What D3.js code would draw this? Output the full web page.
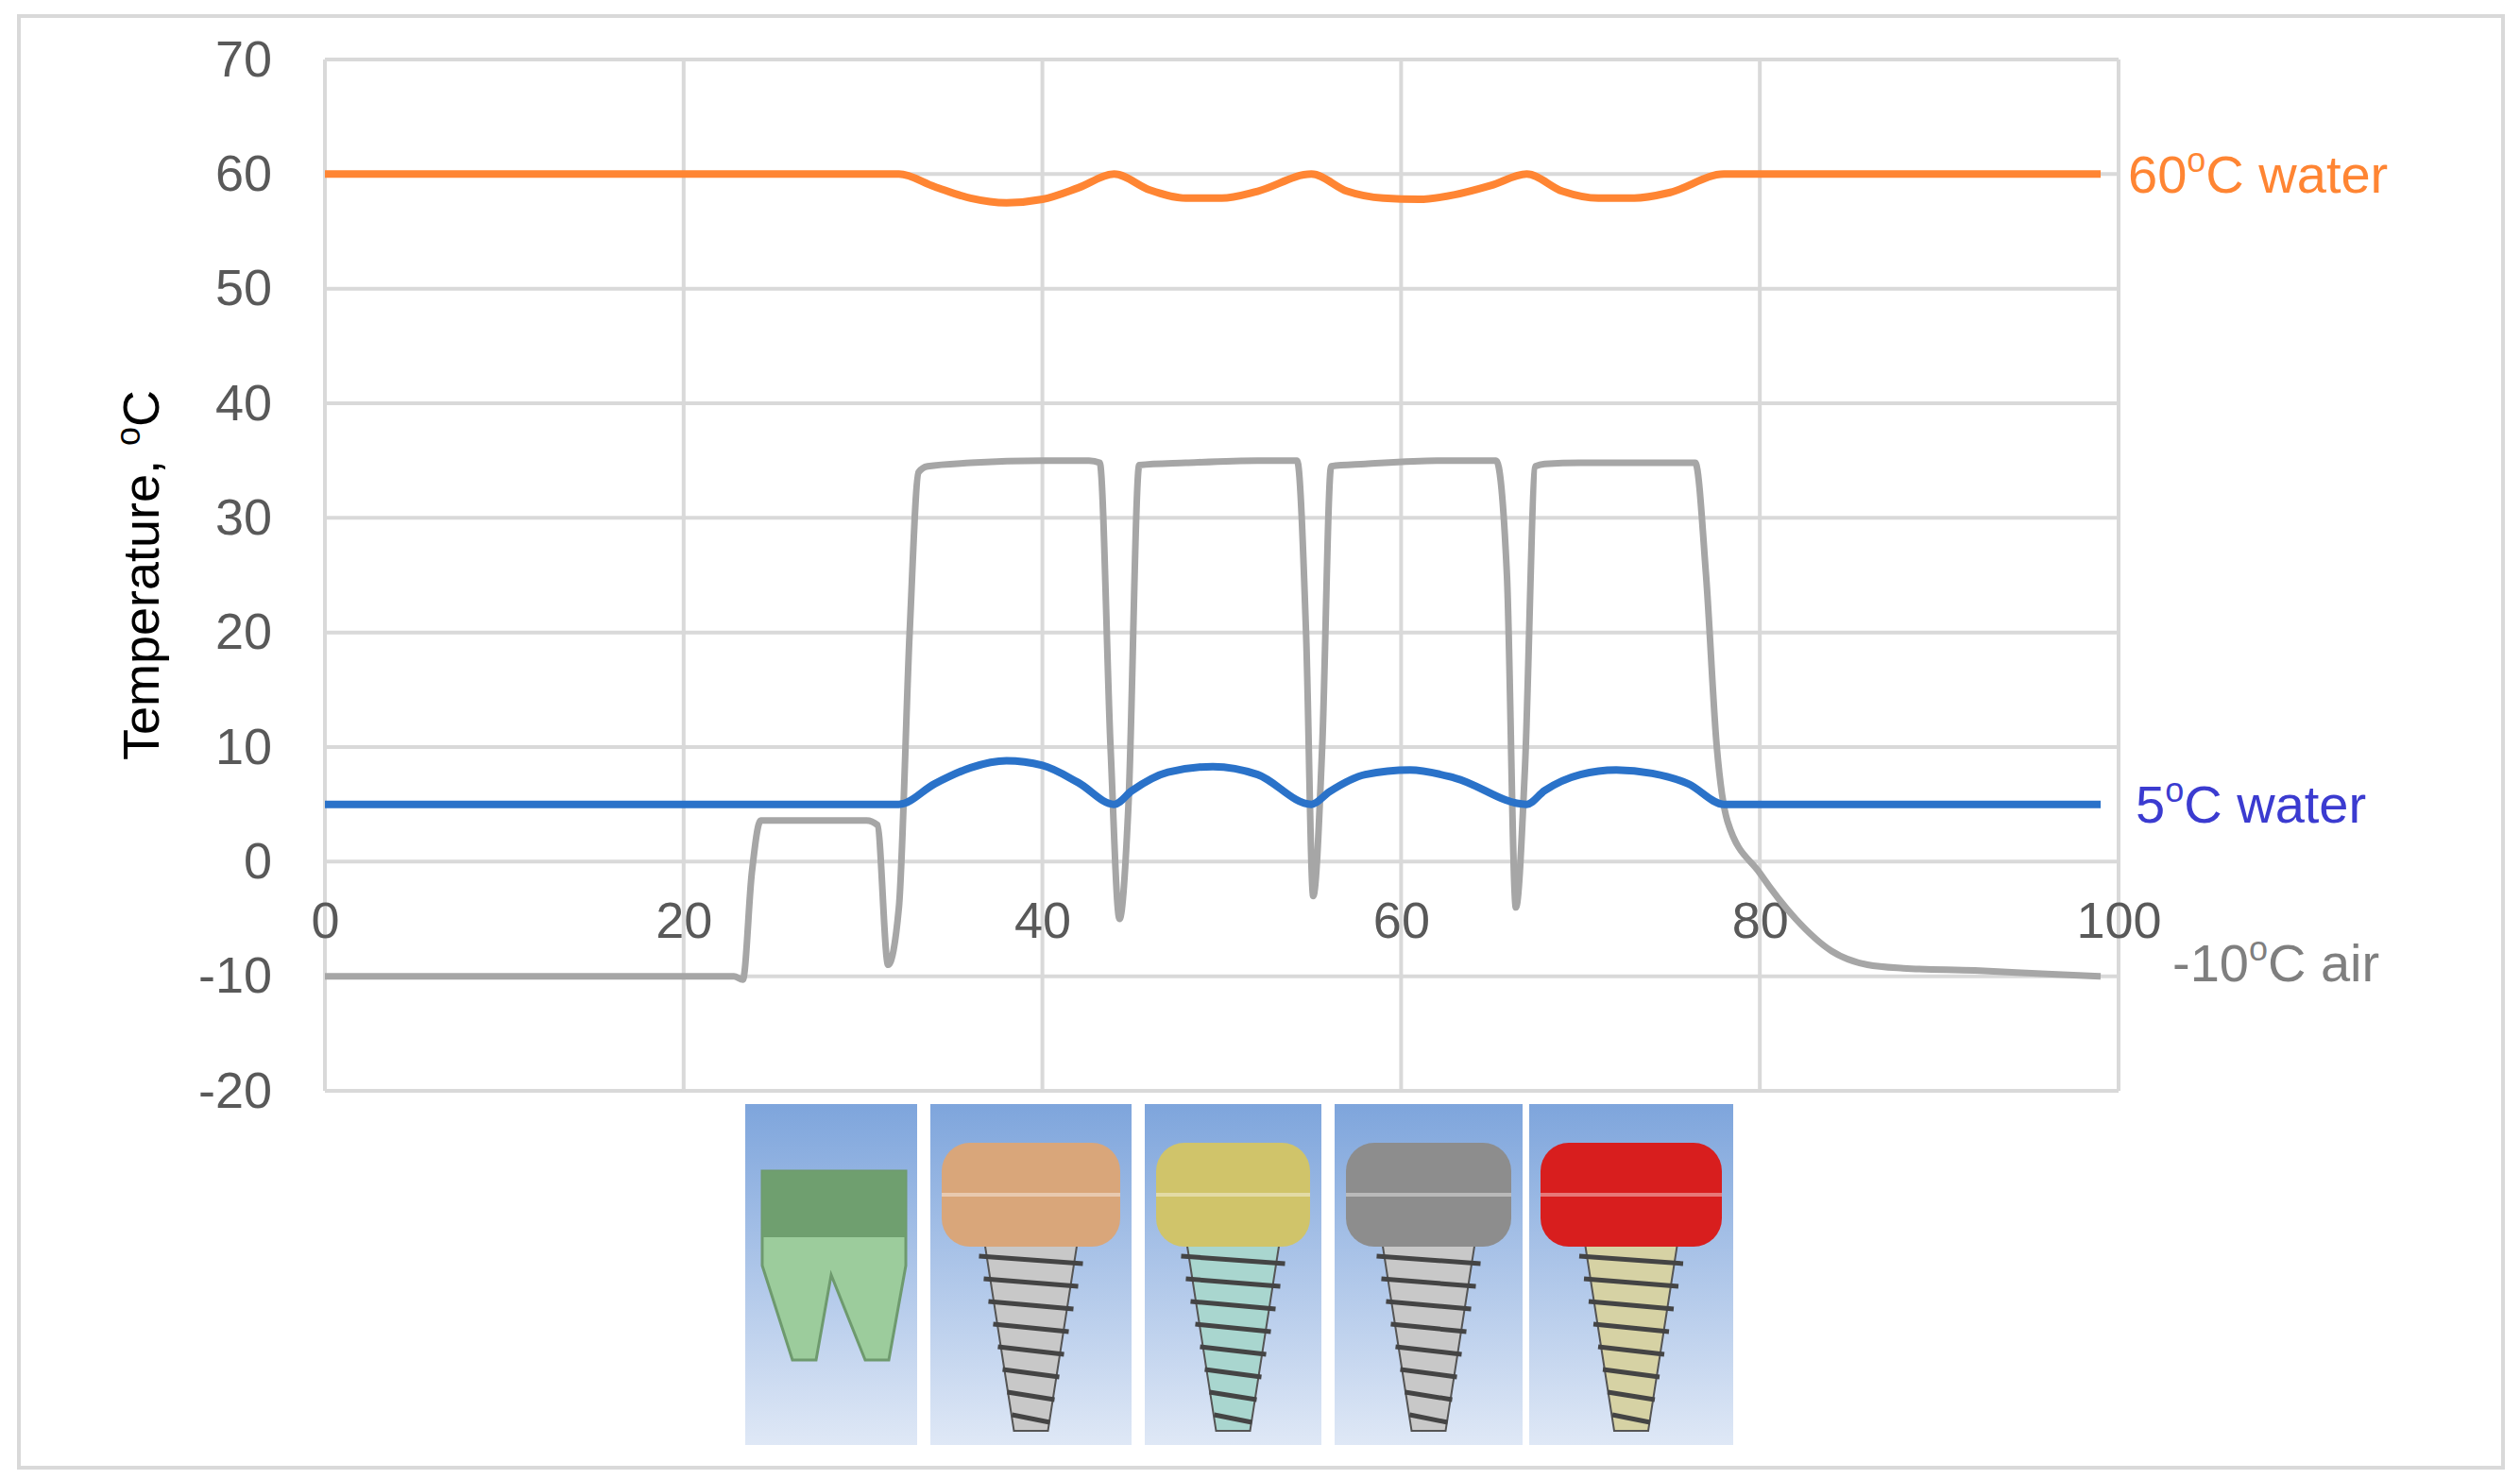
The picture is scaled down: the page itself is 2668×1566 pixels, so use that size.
<!DOCTYPE html>
<html>
<head>
<meta charset="utf-8">
<script src="https://d3js.org/d3.v7.min.js"></script>
<style>
  body { margin: 0; background: #fff; }
</style>
</head>
<body>
<div id="chart"></div>
<script>
"use strict";
var W = 2668, H = 1566;
var margin = {left: 344, right: 2668 - 2243, top: 63, bottom: 1566 - 1155};

// ---- data ----
var airX = [0, 10, 20, 22.8, 23.3, 23.8, 24.3, 27, 30.2, 30.8, 31.4, 32.0, 32.6, 33.1, 33.6, 36, 40, 42.6, 43.2, 43.8, 44.3, 44.8, 45.4, 48, 52, 54.2, 54.7, 55.1, 55.6, 56.1, 58, 62, 65.3, 65.9, 66.4, 66.9, 67.5, 68.0, 70, 74, 76.4, 77.0, 77.6, 78.2, 80, 82, 84, 86, 88, 92, 96, 99];
var airY = [-10, -10, -10, -10, -10.3, -1, 3.6, 3.6, 3.6, 3.2, -9, -4, 20, 34, 34.5, 34.8, 35, 35, 34.8, 10, -5, 5, 34.6, 34.8, 35, 35, 20, -3, 10, 34.5, 34.7, 35, 35, 25, -4, 8, 34.5, 34.7, 34.8, 34.8, 34.8, 25, 10, 3.5, -1, -5, -7.8, -9, -9.3, -9.5, -9.8, -10];
var hotX = [0, 20, 32, 34, 36, 38, 40, 42, 44, 46, 48, 50, 52, 55, 57, 59, 61, 63, 65, 67, 69, 71, 73, 75, 78, 99];
var hotY = [60, 60, 60, 58.9, 57.9, 57.5, 57.8, 58.8, 60, 58.6, 57.9, 57.9, 58.5, 60, 58.5, 57.9, 57.8, 58.2, 59.0, 60, 58.5, 57.9, 57.9, 58.4, 60, 60];
var coldX = [0, 20, 32, 34, 36, 38, 40, 42, 44, 45, 47, 49.5, 52, 55, 56, 58, 60.5, 63, 67, 68, 70, 72, 74, 76, 78, 99];
var coldY = [5, 5, 5, 6.8, 8.2, 8.8, 8.4, 6.9, 5, 6.2, 7.8, 8.3, 7.6, 5, 6.1, 7.6, 8.0, 7.3, 5, 6.2, 7.6, 8.0, 7.7, 6.8, 5, 5];
var xTicks = [0, 20, 40, 60, 80, 100];
var yTicks = [-20, -10, 0, 10, 20, 30, 40, 50, 60, 70];
var labels = ["60", "5", "-10"];

var svg = d3.select("#chart").append("svg").attr("width", W).attr("height", H);
svg.append("rect").attr("x", 20).attr("y", 17).attr("width", 2630).attr("height", 1537)
  .attr("fill", "#fff").attr("stroke", "#d9d9d9").attr("stroke-width", 4);

var x = d3.scaleLinear().domain([0, 100]).range([margin.left, W - margin.right]);
var y = d3.scaleLinear().domain([-20, 70]).range([H - margin.bottom, margin.top]);
var fmt = d => String(d);

// grid
svg.append("g").selectAll("line").data(yTicks).join("line")
  .attr("x1", x(0)).attr("x2", x(100)).attr("y1", d => y(d)).attr("y2", d => y(d))
  .attr("stroke", "#d9d9d9").attr("stroke-width", 4);
svg.append("g").selectAll("line").data(xTicks).join("line")
  .attr("x1", d => x(d)).attr("x2", d => x(d)).attr("y1", y(70)).attr("y2", y(-20))
  .attr("stroke", "#d9d9d9").attr("stroke-width", 4);

// y axis labels
var ya = svg.append("g")
  .attr("transform", "translate(" + (x(0) - 56) + ",0)")
  .call(d3.axisLeft(y).tickValues(yTicks).tickFormat(fmt).tickSize(0).tickPadding(0));
ya.select(".domain").remove();
ya.selectAll("text").attr("font-size", 54).attr("font-family", "Liberation Sans, sans-serif").attr("fill", "#595959");

// x axis labels, drawn at the zero line
var xa = svg.append("g")
  .attr("transform", "translate(0," + (y(0) + 42) + ")")
  .call(d3.axisBottom(x).tickValues(xTicks).tickFormat(fmt).tickSize(0).tickPadding(0));
xa.select(".domain").remove();
xa.selectAll("text").attr("font-size", 54).attr("font-family", "Liberation Sans, sans-serif").attr("fill", "#595959");

var line = d3.line().x(d => x(d[0])).y(d => y(d[1])).curve(d3.curveMonotoneX);
var zipped = (a, b) => a.map((v, i) => [v, b[i]]);

svg.append("path").datum(zipped(airX, airY)).attr("d", line)
  .attr("fill", "none").attr("stroke", "#a6a6a6").attr("stroke-width", 7).attr("stroke-linejoin", "round");
svg.append("path").datum(zipped(coldX, coldY)).attr("d", line)
  .attr("fill", "none").attr("stroke", "#2a72c9").attr("stroke-width", 8);
svg.append("path").datum(zipped(hotX, hotY)).attr("d", line)
  .attr("fill", "none").attr("stroke", "#ff8533").attr("stroke-width", 8);

// axis title
svg.append("text")
  .attr("transform", "translate(168," + y(25) + ") rotate(-90)")
  .attr("text-anchor", "middle").attr("font-family", "Liberation Sans, Arial, sans-serif")
  .attr("font-size", 54).attr("fill", "#000")
  .html('Temperature, <tspan dy="-20" font-size="36">o</tspan><tspan dy="20">C</tspan>');

// series labels
function seriesLabel(txt, unit, xx, yy, color) {
  svg.append("text").attr("x", xx).attr("y", yy).attr("dy", "0.35em")
    .attr("font-family", "Liberation Sans, sans-serif").attr("font-size", 56).attr("fill", color)
    .html(txt + '<tspan dy="-22" font-size="36">o</tspan><tspan dy="22">' + unit + '</tspan>');
}
seriesLabel(labels[0], "C water", 2253, y(60), "#ff8533");
seriesLabel(labels[1], "C water", 2261, y(5), "#3b3bd0");
seriesLabel(labels[2], "C air", 2300, y(-10) - 14, "#7f7f7f");

// implant pictures (decorative)
var panels = [[789, 971, "#9ccc9c"], [985, 1198, "#d9a67a"], [1212, 1399, "#d0c46a"], [1413, 1612, "#8d8d8d"], [1619, 1835, "#d81e1e"]];
var grad = svg.append("defs").append("linearGradient").attr("id", "bg").attr("x1", 0).attr("x2", 0).attr("y1", 0).attr("y2", 1);
grad.append("stop").attr("offset", 0).attr("stop-color", "#7ea5dc");
grad.append("stop").attr("offset", 1).attr("stop-color", "#dfe8f6");
panels.forEach(function(p, i) {
  var x0 = p[0], x1 = p[1], cx = (x0 + x1) / 2, w = x1 - x0;
  svg.append("rect").attr("x", x0).attr("y", 1169).attr("width", w).attr("height", 361).attr("fill", "url(#bg)");
  if (i === 0) {
    svg.append("path").attr("d", "M" + (x0 + 18) + ",1240 L" + (x1 - 12) + ",1240 L" + (x1 - 12) + ",1340 L" + (x1 - 30) + ",1440 L" + (x1 - 55) + ",1440 L" + (cx) + ",1350 L" + (x0 + 75) + ",1440 L" + (x0 + 50) + ",1440 L" + (x0 + 18) + ",1340 Z")
      .attr("fill", p[2]).attr("stroke", "#6e9a6e").attr("stroke-width", 3);
    svg.append("rect").attr("x", x0 + 18).attr("y", 1240).attr("width", w - 30).attr("height", 70).attr("fill", "#6f9f6f");
  } else {
    svg.append("path").attr("d", "M" + (cx - 50) + ",1310 L" + (cx + 50) + ",1310 L" + (cx + 18) + ",1515 L" + (cx - 18) + ",1515 Z")
      .attr("fill", i === 2 ? "#a9d6cf" : i === 4 ? "#d6d2a4" : "#c8c8c8").attr("stroke", "#555").attr("stroke-width", 2);
    for (var k = 0; k < 8; k++) {
      var yy = 1330 + k * 24, hw = 55 - k * 5;
      svg.append("line").attr("x1", cx - hw).attr("x2", cx + hw).attr("y1", yy).attr("y2", yy + 8).attr("stroke", "#444").attr("stroke-width", 5);
    }
    svg.append("rect").attr("x", x0 + 12).attr("y", 1210).attr("width", w - 24).attr("height", 110).attr("rx", 30).attr("fill", p[2]);
    svg.append("line").attr("x1", x0 + 12).attr("x2", x1 - 12).attr("y1", 1265).attr("y2", 1265).attr("stroke", "#fff").attr("stroke-opacity", 0.4).attr("stroke-width", 4);
  }
});
</script>
</body>
</html>
